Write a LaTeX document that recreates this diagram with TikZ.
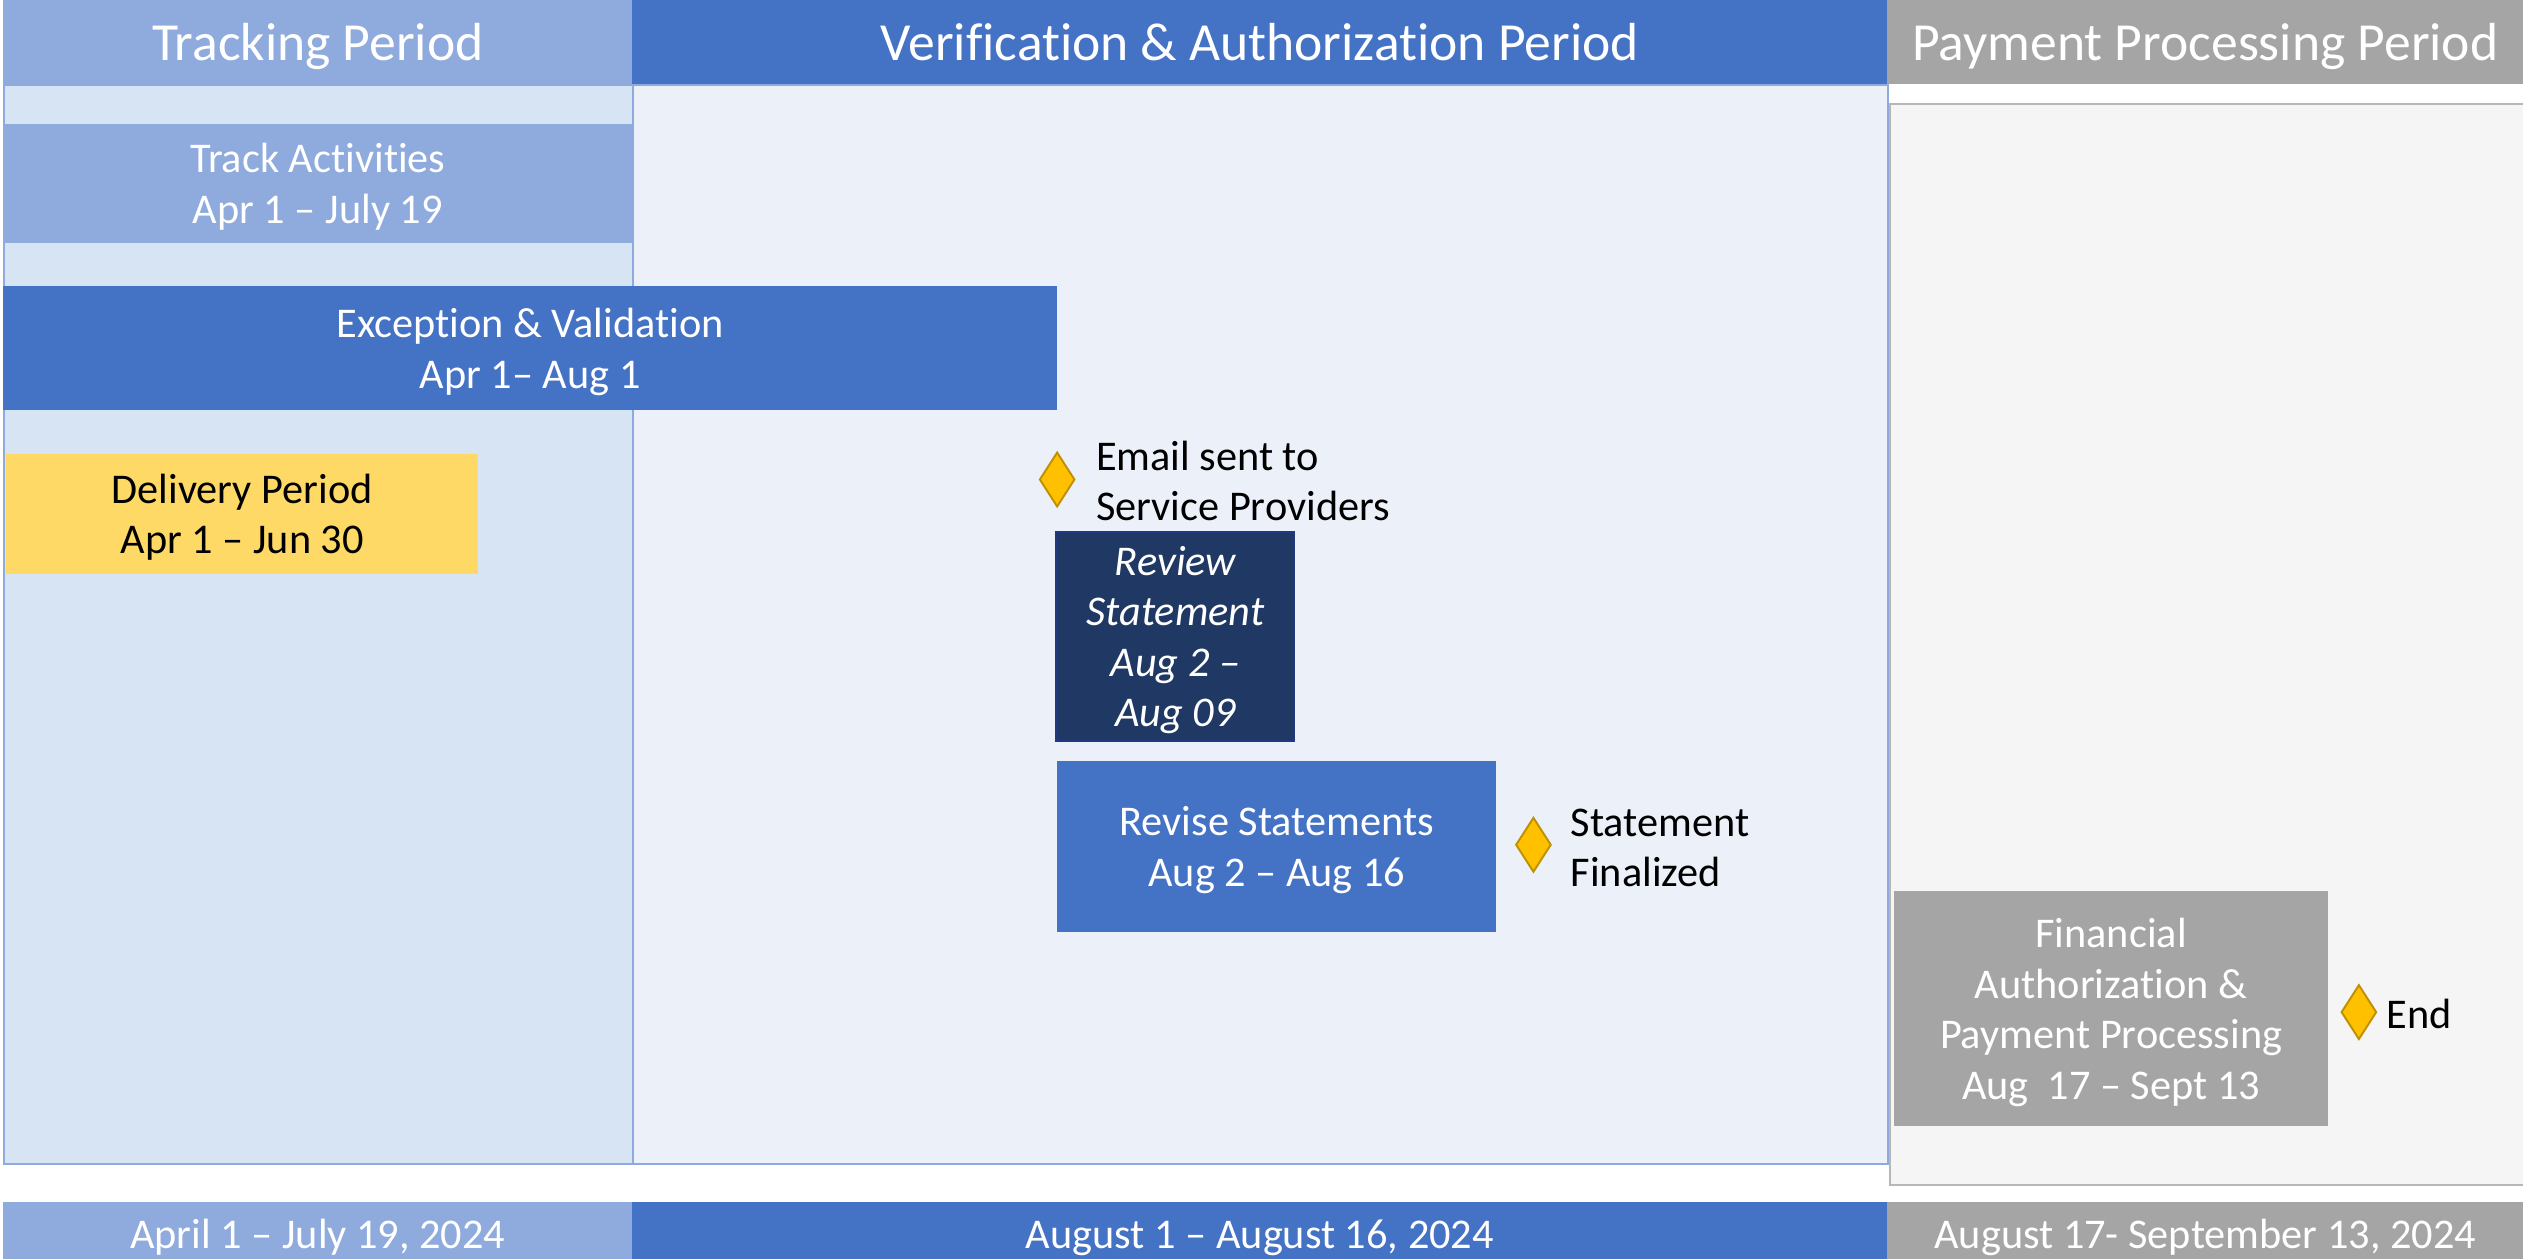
\documentclass[tikz,border=0pt]{standalone}
\usepackage{fontspec}
\setmainfont[Ligatures=NoCommon]{Carlito}
\usetikzlibrary{shapes.geometric}
\definecolor{trackc}{HTML}{8FAADC}
\definecolor{verc}{HTML}{4472C4}
\definecolor{payc}{HTML}{A5A5A5}
\definecolor{trackbg}{HTML}{D6E4F4}
\definecolor{verbg}{HTML}{ECF0F9}
\definecolor{paybg}{HTML}{F5F5F5}
\definecolor{navy}{HTML}{203864}
\definecolor{navyedge}{HTML}{1F3A80}
\definecolor{deliv}{HTML}{FFD966}
\definecolor{gold}{HTML}{FFC000}
\definecolor{goldedge}{HTML}{BF9000}
\newcommand{\hdrfont}{\fontsize{33.3}{38}\selectfont}
\newcommand{\bodyfont}{\fontsize{26.3}{31.4}\selectfont}
\newcommand{\tstr}{\rule{0pt}{0.952em}}
\newcommand{\bstr}{\rule[-0.269em]{0pt}{0.269em}}
\tikzset{
  bar/.style={draw=none, inner sep=0pt, outer sep=0pt, align=center, text=white},
  hdr/.style={bar, font=\hdrfont},
  ftr/.style={bar, font=\bodyfont},
  taskbox/.style={inner sep=0pt, outer sep=0pt, align=center, font=\bodyfont, text=white},
  milestone/.style={diamond, draw=goldedge, fill=gold, line width=1.2pt, minimum width=22pt, minimum height=34pt, inner sep=0pt, aspect=0.65},
  mlabel/.style={anchor=west, align=left, font=\bodyfont, text=black, inner sep=0pt},
}
\begin{document}
\begin{tikzpicture}[x=1pt, y=-1pt]
\useasboundingbox[fill=white] (0,0) rectangle (1568,782);
% body panels
\node[draw=payc!80, line width=1.2pt, fill=paybg, inner sep=0pt, minimum width=395pt, minimum height=672pt, anchor=north west] (paybody) at (1174,64) {};
\node[draw=trackc, line width=1.2pt, fill=verbg, inner sep=0pt, minimum width=780pt, minimum height=671pt, anchor=north west] (verbody) at (393,52) {};
\node[draw=trackc, line width=1.2pt, fill=trackbg, inner sep=0pt, minimum width=391pt, minimum height=671pt, anchor=north west] (trackbody) at (2,52) {};
% headers
\node[hdr, fill=trackc, minimum width=391pt, minimum height=52pt, anchor=north west] (trackhdr) at (2,0) {\tstr Tracking Period\bstr};
\node[hdr, fill=verc, minimum width=780pt, minimum height=52pt, anchor=north west] (verhdr) at (393,0) {\tstr Verification \& Authorization Period\bstr};
\node[hdr, fill=payc, minimum width=395pt, minimum height=52pt, anchor=north west] (payhdr) at (1173,0) {\tstr Payment Processing Period\bstr};
% footers
\node[ftr, fill=trackc, minimum width=391pt, minimum height=40pt, anchor=north west] (trackftr) at (2,747) {\tstr April 1 -- July 19, 2024\bstr};
\node[ftr, fill=verc, minimum width=780pt, minimum height=40pt, anchor=north west] (verftr) at (393,747) {\tstr August 1 -- August 16, 2024\bstr};
\node[ftr, fill=payc, minimum width=395pt, minimum height=40pt, anchor=north west] (payftr) at (1173,747) {\tstr August 17- September 13, 2024\bstr};
% tasks
\node[taskbox, fill=trackc, minimum width=391pt, minimum height=74pt, anchor=north west] (track) at (2,77) {\tstr Track Activities\\Apr 1 -- July 19\bstr};
\node[taskbox, fill=verc, minimum width=655pt, minimum height=77pt, anchor=north west] (exc) at (2,178) {\tstr Exception \& Validation\\Apr 1-- Aug 1\bstr};
\node[taskbox, fill=deliv, text=black, minimum width=293pt, minimum height=75pt, anchor=north west] (deliv) at (4,282) {\tstr Delivery Period\\Apr 1 -- Jun 30\bstr};
\node[taskbox, fill=navy, draw=navyedge, line width=1.2pt, minimum width=148pt, minimum height=130pt, anchor=north west, font=\bodyfont\itshape] (review) at (656.5,330.5) {\tstr Review\\Statement\\Aug 2 --\\Aug 09\bstr};
\node[taskbox, fill=verc, minimum width=273pt, minimum height=106pt, anchor=north west] (revise) at (657,473) {\tstr Revise Statements\\Aug 2 -- Aug 16\bstr};
\node[taskbox, fill=payc, minimum width=270pt, minimum height=146pt, anchor=north west] (fin) at (1177,554) {\tstr Financial\\Authorization \&\\Payment Processing\\Aug~~17 -- Sept 13\bstr};
% milestones
\node[milestone] (m1) at (657,298) {};
\node[mlabel] (m1l) at (681,299) {Email sent to\\Service Providers};
\node[milestone] (m2) at (953,525) {};
\node[mlabel] (m2l) at (976,527) {Statement\\Finalized};
\node[milestone] (m3) at (1466,629) {};
\node[mlabel] (m3l) at (1483,630) {End};
\end{tikzpicture}
\end{document}
